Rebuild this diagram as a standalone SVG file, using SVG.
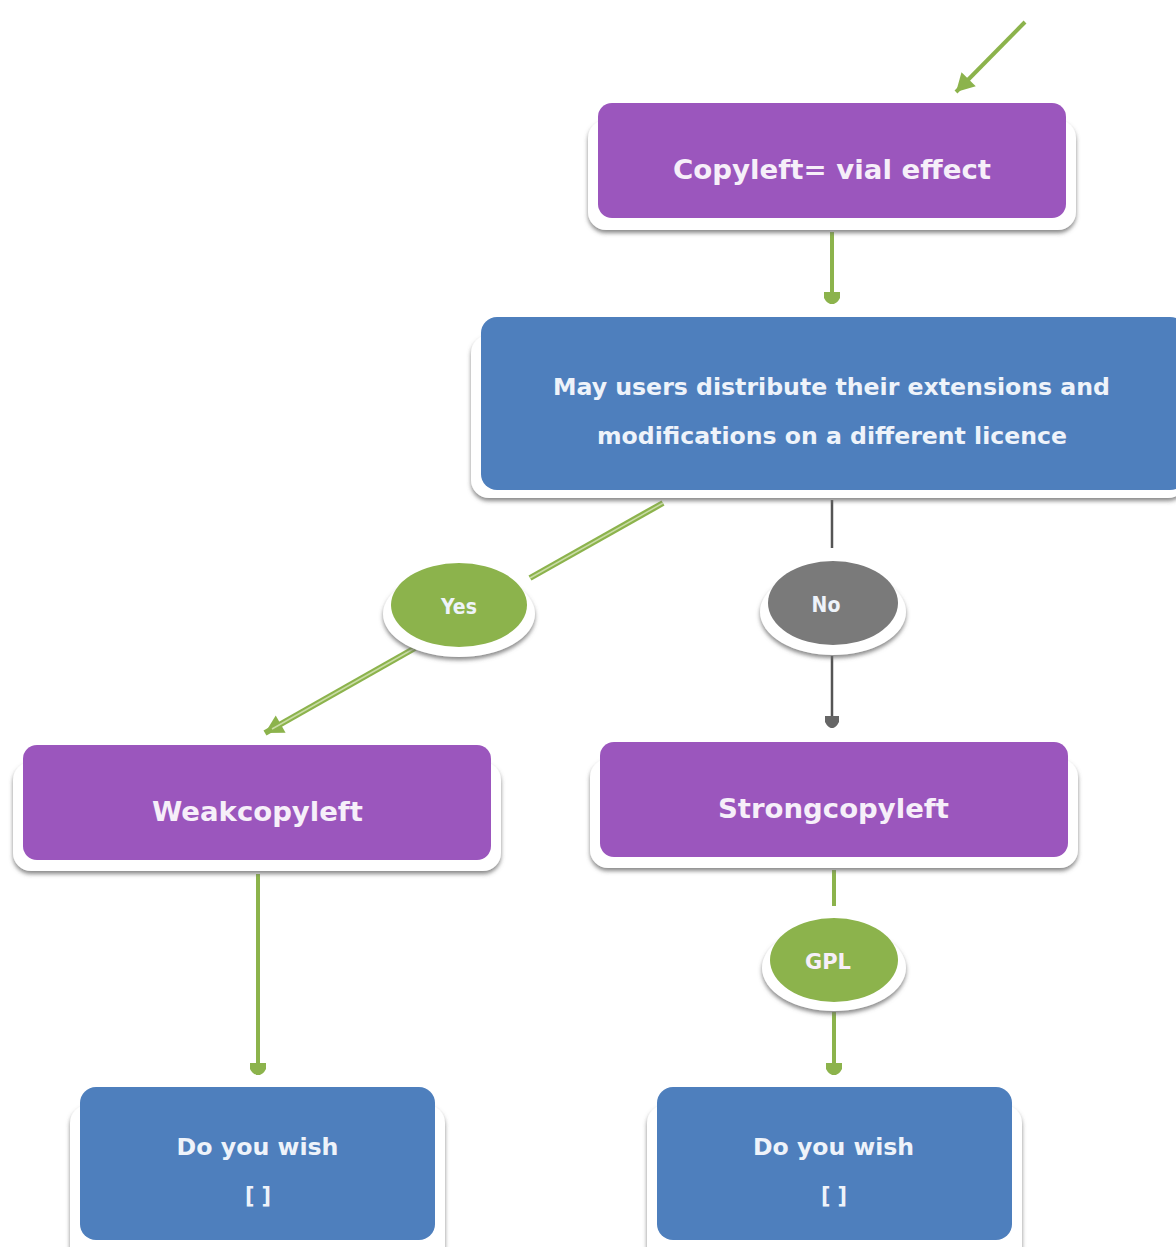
<svg xmlns="http://www.w3.org/2000/svg" width="1176" height="1247" viewBox="0 0 1176 1247">
<style>
.t{font-family:"DejaVu Sans","Liberation Sans",sans-serif;font-weight:bold;fill:#f6eff9;text-anchor:middle}
.c{font-family:"DejaVu Sans Condensed","DejaVu Sans","Liberation Sans",sans-serif;font-stretch:condensed;font-weight:bold;fill:#eef3fa;text-anchor:middle}
.purple{fill:#9b56bd}
.blue{fill:#4e7fbd}
.green{fill:#8cb34c}
.grey{fill:#7a7a7a}
.plate{fill:#ffffff;filter:url(#sh)}
.gl{stroke:#8cb34c;stroke-width:4;fill:none}
.kl{stroke:#555555;stroke-width:2.5;fill:none}
</style>
<defs>
<filter id="sh" x="-10%" y="-20%" width="120%" height="150%">
<feDropShadow dx="0" dy="3" stdDeviation="2" flood-color="#6b6b6b" flood-opacity="0.8"/>
</filter>
<marker id="mg" markerUnits="userSpaceOnUse" markerWidth="20" markerHeight="20" viewBox="-14 -10 16 20" refX="0" refY="0" orient="auto">
<path d="M-12,-8 L-6,-8 Q0,-5 0,0 Q0,5 -6,8 L-12,8 Z" fill="#8cb34c"/>
</marker>
<marker id="mk" markerUnits="userSpaceOnUse" markerWidth="20" markerHeight="20" viewBox="-14 -10 16 20" refX="0" refY="0" orient="auto">
<path d="M-12,-7 L-6,-7 Q0,-4 0,0 Q0,4 -6,7 L-12,7 Z" fill="#666666"/>
</marker>
<marker id="tg" markerUnits="userSpaceOnUse" markerWidth="24" markerHeight="24" viewBox="-20 -12 22 24" refX="0" refY="0" orient="auto">
<path d="M-18,-10 L0,0 L-18,10 Z" fill="#8cb34c"/>
</marker>
</defs>

<g id="connectors">
<line class="gl" x1="1025" y1="22" x2="956" y2="92" marker-end="url(#tg)"/>
<line class="gl" x1="832" y1="232" x2="832" y2="304" marker-end="url(#mg)"/>
<line x1="663" y1="503" x2="530" y2="578" stroke="#8cb34c" stroke-width="6"/>
<line x1="663" y1="503" x2="530" y2="578" stroke="#c9dca5" stroke-width="1.5"/>
<line x1="415" y1="648" x2="265" y2="733" stroke="#8cb34c" stroke-width="6" marker-end="url(#tg)"/>
<line x1="415" y1="648" x2="272" y2="729" stroke="#c9dca5" stroke-width="1.5"/>
<line class="kl" x1="832" y1="500" x2="832" y2="548"/>
<line class="kl" x1="832" y1="656" x2="832" y2="728" marker-end="url(#mk)"/>
<line class="gl" x1="258" y1="874" x2="258" y2="1075" marker-end="url(#mg)"/>
<line class="gl" x1="834" y1="870" x2="834" y2="906"/>
<line class="gl" x1="834" y1="1012" x2="834" y2="1075" marker-end="url(#mg)"/>
</g>

<g id="n-copyleft">
<rect class="plate" x="588" y="120" width="488" height="110" rx="18"/>
<rect class="purple" x="598" y="103" width="468" height="115" rx="14"/>
<text class="t" x="832" y="179" font-size="26" textLength="318" lengthAdjust="spacingAndGlyphs">Copyleft= vial effect</text>
</g>

<g id="n-question">
<rect class="plate" x="471" y="335" width="715" height="163" rx="18"/>
<rect class="blue" x="481" y="317" width="705" height="173" rx="16"/>
<text class="c" x="831.5" y="395" font-size="23" textLength="557" lengthAdjust="spacingAndGlyphs">May users distribute their extensions and</text>
<text class="c" x="832" y="444" font-size="23" textLength="470" lengthAdjust="spacingAndGlyphs">modifications on a different licence</text>
</g>

<g id="n-yes">
<ellipse class="plate" cx="459" cy="614" rx="76" ry="43"/>
<ellipse class="green" cx="459" cy="605" rx="68" ry="42"/>
<text class="c" x="459" y="614" font-size="21">Yes</text>
</g>

<g id="n-no">
<ellipse class="plate" cx="833" cy="612" rx="73" ry="43"/>
<ellipse class="grey" cx="833" cy="603" rx="65" ry="42"/>
<text class="c" x="826" y="612" font-size="21">No</text>
</g>

<g id="n-weak">
<rect class="plate" x="13" y="762" width="488" height="109" rx="18"/>
<rect class="purple" x="23" y="745" width="468" height="115" rx="14"/>
<text class="t" x="257.5" y="821" font-size="26" textLength="211" lengthAdjust="spacingAndGlyphs">Weakcopyleft</text>
</g>

<g id="n-strong">
<rect class="plate" x="590" y="759" width="488" height="109" rx="18"/>
<rect class="purple" x="600" y="742" width="468" height="115" rx="14"/>
<text class="t" x="833.5" y="818" font-size="26" textLength="231" lengthAdjust="spacingAndGlyphs">Strongcopyleft</text>
</g>

<g id="n-gpl">
<ellipse class="plate" cx="834" cy="968" rx="72" ry="43"/>
<ellipse class="green" cx="834" cy="960" rx="64" ry="42"/>
<text class="t" x="828" y="969" font-size="21">GPL</text>
</g>

<g id="n-wish-left">
<rect class="plate" x="70" y="1105" width="375" height="160" rx="18"/>
<rect class="blue" x="80" y="1087" width="355" height="153" rx="16"/>
<text class="c" x="257.5" y="1155" font-size="23" textLength="162" lengthAdjust="spacingAndGlyphs">Do you wish</text>
<text class="c" x="258" y="1204" font-size="23">[ ]</text>
</g>

<g id="n-wish-right">
<rect class="plate" x="647" y="1105" width="375" height="160" rx="18"/>
<rect class="blue" x="657" y="1087" width="355" height="153" rx="16"/>
<text class="c" x="833.5" y="1155" font-size="23" textLength="161" lengthAdjust="spacingAndGlyphs">Do you wish</text>
<text class="c" x="834" y="1204" font-size="23">[ ]</text>
</g>
</svg>
